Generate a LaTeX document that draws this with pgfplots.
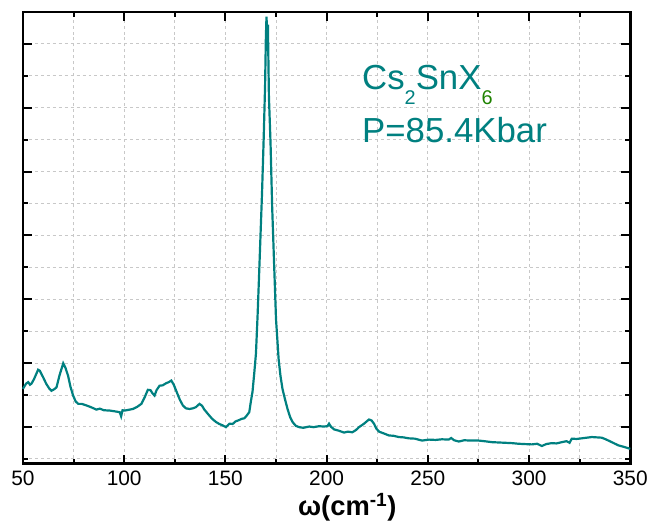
\documentclass[border=0pt]{standalone}
\usepackage{pgfplots}
\pgfplotsset{compat=1.18}
\usepackage{fontspec}
\setmainfont{Liberation Sans}
\definecolor{teal1}{RGB}{0,128,128}
\definecolor{green6}{RGB}{30,130,0}
\definecolor{gridgray}{RGB}{200,200,200}
\begin{document}
\begin{tikzpicture}
\begin{axis}[
  scale only axis, width=609bp, height=453bp,
  xmin=50, xmax=350, ymin=-0.156, ymax=14,
  xtick={50,100,...,350}, minor xtick={75,125,...,325},
  ytick={1,3,...,13}, minor ytick={0,2,...,14}, yticklabels={},
  grid=both,
  major grid style={gridgray, dashed, line width=0.8bp},
  minor grid style={gridgray, dashed, line width=0.8bp},
  axis line style={line width=2.5bp},
  tick align=inside,
  major tick length=9bp, minor tick length=5bp,
  every tick/.style={black, line width=2bp},
  /pgf/number format/assume math mode=true,
  ticklabel style={font=\fontsize{21}{21}\selectfont},
  xticklabel style={yshift=-4bp},
  xlabel={\textbf{ω(cm\textsuperscript{-1})}},
  xlabel style={font=\fontsize{27.5}{27.5}\selectfont, at={(axis description cs:0.534,-0.115)}, anchor=base},
  clip=false,
]
\addplot[teal1, line width=2.2bp] coordinates {
(50,2.19)(51.5,2.35)(52.6,2.40)(53.5,2.32)(54.3,2.36)(55.5,2.50)(57.5,2.79)(58.3,2.76)(60,2.55)(61.5,2.35)(63,2.20)(64.1,2.13)(65.5,2.18)(66.6,2.24)(68,2.60)(69.9,2.99)(71,2.85)(72.3,2.60)(73.5,2.25)(74.8,1.98)(76,1.80)(77.3,1.72)(79,1.72)(81.4,1.67)(83.5,1.62)(86.3,1.54)(88,1.57)(90,1.52)(92.9,1.51)(95,1.49)(97.8,1.46)(98.5,1.33)(99.2,1.52)(100.2,1.51)(102,1.53)(104.3,1.56)(106.5,1.63)(108.5,1.72)(110.3,1.95)(111.7,2.16)(113,2.15)(114,2.05)(115,1.98)(116,2.15)(117.5,2.29)(119,2.30)(120.8,2.37)(122,2.40)(123.3,2.45)(124.5,2.32)(125.7,2.13)(127.5,1.85)(129,1.67)(130.5,1.58)(132.3,1.56)(134,1.58)(135.5,1.62)(137.2,1.72)(138.5,1.66)(139.5,1.55)(141.3,1.41)(143.5,1.25)(145.4,1.15)(147,1.09)(148.5,1.05)(150.3,0.99)(152,1.10)(153.6,1.09)(155,1.17)(156.7,1.21)(158,1.25)(159.4,1.27)(160.5,1.35)(161.8,1.46)(162.6,1.80)(163.4,2.10)(164.3,2.71)(165.1,3.3)(165.9,4.48)(166.5,5.5)(167.1,6.56)(168.1,8.33)(168.9,10.0)(169.6,11.67)(170.0,13.2)(170.3,13.85)(170.7,13.3)(171.0,13.6)(171.5,11.35)(172.3,9.9)(173.1,7.9)(174.1,6.04)(175.0,4.38)(176.3,3.12)(177.2,2.6)(178.2,2.19)(179.5,1.85)(180.7,1.56)(182,1.30)(183.2,1.15)(184.8,1.03)(186.5,0.99)(188.5,0.97)(191.4,1.01)(193.5,0.99)(196.3,1.02)(198.5,1.01)(200.4,1.02)(201.2,1.10)(202.2,1.00)(203.7,0.92)(206,0.88)(208.6,0.82)(210.5,0.85)(212.7,0.83)(214.5,0.90)(216,0.99)(218.5,1.10)(220.9,1.23)(222.2,1.20)(223.4,1.10)(224.5,0.95)(225.9,0.85)(228,0.80)(230.8,0.73)(233,0.72)(235.7,0.68)(238,0.67)(240.6,0.64)(243.5,0.63)(247.2,0.57)(250.5,0.60)(253.8,0.59)(257,0.61)(260.3,0.60)(261.5,0.65)(263,0.58)(265.3,0.54)(268,0.58)(271,0.57)(275.1,0.57)(278,0.55)(281.7,0.52)(285,0.51)(288.3,0.50)(291.5,0.49)(294.8,0.47)(298,0.46)(301.4,0.45)(304,0.47)(306.3,0.40)(308.5,0.46)(311.2,0.49)(313.5,0.48)(316.2,0.52)(318.5,0.55)(320,0.50)(321.1,0.63)(323.5,0.62)(326,0.64)(328.5,0.66)(331,0.68)(333.5,0.67)(335.9,0.66)(337.5,0.62)(339.2,0.57)(341.5,0.50)(344.1,0.42)(347,0.37)(350,0.31)
};
\node[anchor=base west, inner sep=0pt, text=teal1, font=\fontsize{35}{35}\selectfont] at (axis cs:217.5,11.56)
  {Cs\raisebox{-0.42em}{\fontsize{20}{20}\selectfont 2}SnX\raisebox{-0.42em}{\fontsize{20}{20}\selectfont\color{green6}6}};
\node[anchor=base west, inner sep=0pt, text=teal1, font=\fontsize{35}{35}\selectfont] at (axis cs:217.5,9.9) {P=85.4Kbar};
\end{axis}
\useasboundingbox ([xshift=-23bp,yshift=-59bp]current axis.south west) rectangle ([xshift=19bp,yshift=12bp]current axis.north east);
\end{tikzpicture}
\end{document}
